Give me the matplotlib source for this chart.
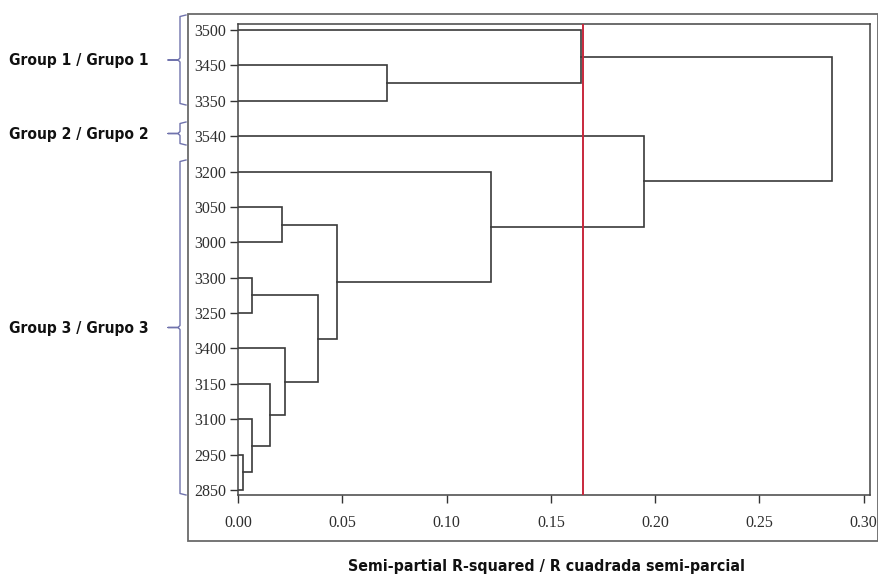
import matplotlib
matplotlib.use("Agg")
import matplotlib.pyplot as plt
from matplotlib.patches import Rectangle
from matplotlib.lines import Line2D
from matplotlib import font_manager as fm

# ---- data ----
leaves = ["3500", "3450", "3350", "3540", "3200", "3050", "3000",
          "3300", "3250", "3400", "3150", "3100", "2950", "2850"]
# merges: (child_a, child_b, height); new cluster id = len(leaves) + k
merge_a = [1, 0, 12, 11, 10, 9, 7, 20, 5, 22, 4, 3, 15]
merge_b = [2, 14, 13, 16, 17, 18, 8, 19, 6, 21, 23, 24, 25]
merge_h = [0.0713, 0.1646, 0.0024, 0.0065, 0.0153, 0.0225, 0.0067,
           0.0383, 0.0210, 0.0474, 0.1215, 0.1947, 0.2850]
cut_height = 0.1656
x_ticks = [0.00, 0.05, 0.10, 0.15, 0.20, 0.25, 0.30]
x_ticklabels = ["0.00", "0.05", "0.10", "0.15", "0.20", "0.25", "0.30"]
groups = ["Group 1 / Grupo 1", "Group 2 / Grupo 2", "Group 3 / Grupo 3"]
xlabel = "Semi-partial R-squared / R cuadrada semi-parcial"

W, H = 879, 576
fig = plt.figure(figsize=(W / 100, H / 100), dpi=100)

def fx(px):
    return px / W

def fy(py):
    return 1 - py / H

# pick a condensed bold sans if available
def pick_font():
    cands = [dict(family="Liberation Sans Narrow", weight="bold"),
             dict(family="DejaVu Sans", weight="bold", stretch="condensed"),
             dict(family="Liberation Sans", weight="bold")]
    for c in cands:
        fp = fm.FontProperties(**c)
        try:
            path = fm.findfont(fp, fallback_to_default=False)
        except Exception:
            continue
        name = path.lower()
        if c["family"].startswith("Liberation Sans Narrow") and "narrow" not in name:
            continue
        if c.get("stretch") == "condensed" and "condensed" not in name:
            continue
        return c
    return dict(family="DejaVu Sans", weight="bold")

bold_font = pick_font()

ax = fig.add_axes([fx(238), fy(495), fx(870) - fx(238), fy(24) - fy(495)])

line_col = "#3a3a3a"
n = len(leaves)
node_x = {i: 0.0 for i in range(n)}
node_y = {i: float(i) for i in range(n)}
for k, (a, b, h) in enumerate(zip(merge_a, merge_b, merge_h)):
    xa, ya = node_x[a], node_y[a]
    xb, yb = node_x[b], node_y[b]
    ax.plot([xa, h, h, xb], [ya, ya, yb, yb], color=line_col, lw=1.2,
            solid_joinstyle="miter", zorder=2)
    node_x[n + k] = h
    node_y[n + k] = (ya + yb) / 2

ax.axvline(cut_height, color="#c8283c", lw=1.4, zorder=3)

ax.set_xlim(0, 0.303)
ax.set_ylim(13 + 5 / 35.4, -6 / 35.4)
ax.set_yticks(range(n))
ax.set_yticklabels(leaves)
ax.set_xticks(x_ticks)
ax.set_xticklabels(x_ticklabels)
for lab in ax.get_yticklabels() + ax.get_xticklabels():
    lab.set_fontfamily("Liberation Serif")
    lab.set_color("#2e2e2e")
ax.tick_params(axis="y", direction="out", length=5.5, width=1.0,
               labelsize=11.5, pad=3, color="#333333")
ax.tick_params(axis="x", direction="out", length=5.5, width=1.0,
               labelsize=11.5, pad=9, color="#333333")
for s in ax.spines.values():
    s.set_color("#444444")
    s.set_linewidth(1.1)

# outer box
fig.add_artist(Rectangle((fx(188), fy(541)), fx(878) - fx(188), fy(14) - fy(541),
                         transform=fig.transFigure, fill=False,
                         edgecolor="#6a6a6a", lw=1.3))

renderer = fig.canvas.get_renderer()

def fit_text(t, target_px, max_size):
    t.set_fontsize(max_size)
    w = t.get_window_extent(renderer).width
    if w > target_px:
        t.set_fontsize(max_size * target_px / w)

# group braces and labels
brace_col = "#7073ad"
brace_spans = [(15, 105), (122, 145), (160, 495)]
for g, (t, b) in zip(groups, brace_spans):
    mid = (t + b) / 2
    xs = [186, 180, 180, 178, 168, 178, 180, 180, 186]
    ys = [t, t + 1.5, mid - 2, mid, mid, mid, mid + 2, b - 1.5, b]
    fig.add_artist(Line2D([fx(x) for x in xs], [fy(y) for y in ys],
                          transform=fig.transFigure, color=brace_col, lw=1.0))
    txt = fig.text(fx(9), fy(mid + 1), g, ha="left", va="center",
                   color="#111111", **bold_font)
    fit_text(txt, 140, 14)

cap = fig.text(fx(547), fy(566), xlabel, ha="center", va="center",
               color="#111111", **bold_font)
fit_text(cap, 396, 14.5)

fig.savefig("out.png", dpi=100)
